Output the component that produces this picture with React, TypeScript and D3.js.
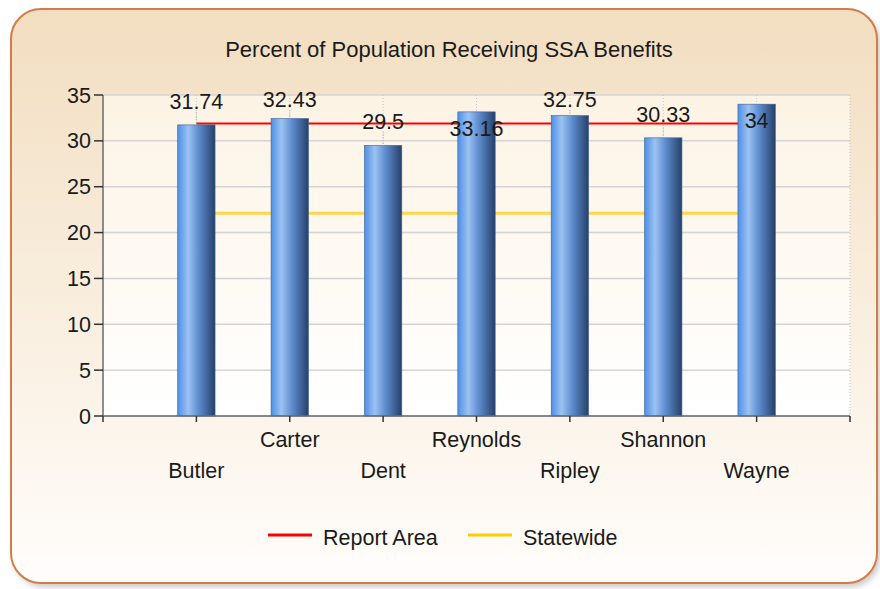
import React from "react";
import * as d3 from "d3";

const categories = ["Butler", "Carter", "Dent", "Reynolds", "Ripley", "Shannon", "Wayne"];
const values = [31.74, 32.43, 29.5, 33.16, 32.75, 30.33, 34];
const labelPlacement = ["above", "above", "above", "inside", "above", "above", "inside"];
const reportArea = 31.9;
const statewide = 22.1;
const yTicks = [0, 5, 10, 15, 20, 25, 30, 35];
const title = "Percent of Population Receiving SSA Benefits";
const legendItems = [
  { name: "Report Area", color: "#ff0000" },
  { name: "Statewide", color: "#ffcc00" },
];

const W = 880;
const H = 589;
const plot = { left: 103, right: 850, top: 95, bottom: 416 };
const FONT = "'Liberation Sans', Arial, sans-serif";

export default function App() {
  const x = d3.scaleLinear().domain([0, categories.length + 1]).range([plot.left, plot.right]);
  const y = d3.scaleLinear().domain([0, 35]).range([plot.bottom, plot.top]);
  const barW = (x(1) - x(0)) * 0.4;
  const xTicks = d3.range(0, categories.length + 2);

  return (
    <svg width={W} height={H} style={{ position: "absolute", left: 0, top: 0 }} fontFamily={FONT}>
      <defs>
        <linearGradient id="frameBg" x1="0" y1="0" x2="0" y2="1">
          <stop offset="0%" stopColor="#f2dec0" />
          <stop offset="100%" stopColor="#fffdfb" />
        </linearGradient>
        <linearGradient id="plotBg" x1="0" y1="0" x2="0" y2="1">
          <stop offset="0%" stopColor="#fcf3e4" />
          <stop offset="100%" stopColor="#ffffff" />
        </linearGradient>
        <linearGradient id="barGrad" x1="0" y1="0" x2="1" y2="0">
          <stop offset="0%" stopColor="#4e8fe6" />
          <stop offset="28%" stopColor="#9cc2f2" />
          <stop offset="55%" stopColor="#5f8fd0" />
          <stop offset="100%" stopColor="#26406a" />
        </linearGradient>
        <filter id="shadow" x="-5%" y="-5%" width="110%" height="110%">
          <feGaussianBlur stdDeviation="3" />
        </filter>
      </defs>

      {/* frame */}
      <rect x={14} y={13} width={866} height={574} rx={30} fill="#9a9a9a" opacity={0.55} filter="url(#shadow)" />
      <rect x={11} y={9} width={866} height={574} rx={30} fill="url(#frameBg)" stroke="#d47c48" strokeWidth={2} />

      {/* title */}
      <text x={449} y={57} textAnchor="middle" fontSize={22} fill="#1a1a1a">{title}</text>

      {/* plot background */}
      <rect x={plot.left} y={plot.top} width={plot.right - plot.left} height={plot.bottom - plot.top} fill="url(#plotBg)" />

      {/* horizontal grid */}
      {yTicks.map((t) => (
        <line key={"g" + t} x1={plot.left} x2={plot.right} y1={y(t)} y2={y(t)} stroke="#d4d4d4" strokeWidth={1.5} />
      ))}
      {/* vertical dotted grid */}
      {xTicks.slice(1).map((t) => (
        <line key={"v" + t} x1={x(t)} x2={x(t)} y1={plot.top} y2={plot.bottom} stroke="#c4c4c4" strokeWidth={1} strokeDasharray="1,2" />
      ))}

      {/* reference lines */}
      <line x1={x(1)} x2={x(categories.length)} y1={y(statewide)} y2={y(statewide)} stroke="#ffd54a" strokeWidth={3} />
      <line x1={x(1)} x2={x(categories.length)} y1={y(reportArea)} y2={y(reportArea)} stroke="#ff0000" strokeWidth={2} />

      {/* bars */}
      {values.map((v, i) => (
        <rect key={"b" + i} x={x(i + 1) - barW / 2} y={y(v)} width={barW} height={y(0) - y(v)} fill="url(#barGrad)" stroke="#3a5f93" strokeWidth={0.6} />
      ))}

      {/* data labels */}
      {values.map((v, i) => {
        const cx = x(i + 1);
        const top = y(v);
        if (labelPlacement[i] === "inside") {
          return (
            <text key={"l" + i} x={cx} y={top + 24} textAnchor="middle" fontSize={21.5} fill="#1a1a1a">{v}</text>
          );
        }
        const base = Math.max(top - 16, 107);
        return (
          <g key={"l" + i}>
            <line x1={cx} x2={cx} y1={base + 3} y2={top} stroke="#b0b0b0" strokeWidth={1} strokeDasharray="1,1.5" />
            <text x={cx} y={base} textAnchor="middle" fontSize={21.5} fill="#1a1a1a">{v}</text>
          </g>
        );
      })}

      {/* y axis */}
      <line x1={plot.left} x2={plot.left} y1={plot.top} y2={plot.bottom} stroke="#6a6a6a" strokeWidth={1.5} />
      {yTicks.map((t) => (
        <g key={"yt" + t}>
          <line x1={plot.left - 9} x2={plot.left} y1={y(t)} y2={y(t)} stroke="#333" strokeWidth={1.5} />
          <text x={plot.left - 12} y={y(t) + 7.5} textAnchor="end" fontSize={21.5} fill="#1a1a1a">{t}</text>
        </g>
      ))}

      {/* x axis */}
      <line x1={plot.left} x2={plot.right} y1={plot.bottom} y2={plot.bottom} stroke="#6a6a6a" strokeWidth={1.5} />
      {xTicks.map((t) => (
        <line key={"xt" + t} x1={x(t)} x2={x(t)} y1={plot.bottom} y2={plot.bottom + 6} stroke="#333" strokeWidth={1.5} />
      ))}
      {categories.map((c, i) => (
        <text key={"c" + i} x={x(i + 1)} y={i % 2 === 0 ? 478 : 447} textAnchor="middle" fontSize={21.5} fill="#1a1a1a">{c}</text>
      ))}

      {/* legend */}
      {legendItems.map((it, i) => {
        const lx = 268 + i * 200;
        return (
          <g key={"lg" + i}>
            <line x1={lx} x2={lx + 44} y1={535} y2={535} stroke={it.color} strokeWidth={3} />
            <text x={lx + 55} y={545} fontSize={21.5} fill="#1a1a1a">{it.name}</text>
          </g>
        );
      })}
    </svg>
  );
}
